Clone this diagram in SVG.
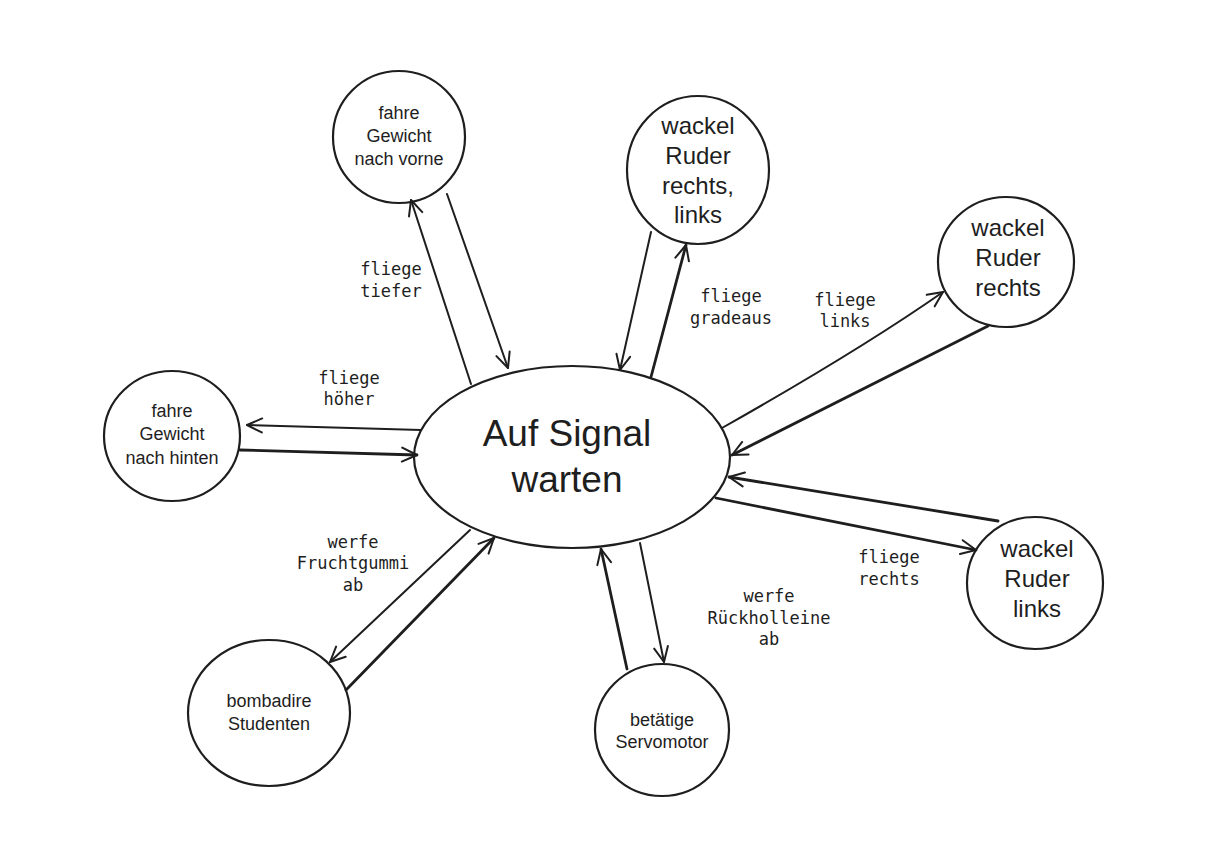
<svg xmlns="http://www.w3.org/2000/svg" width="1227" height="858" viewBox="0 0 1227 858">
<style>
.n{fill:none;stroke:#1e1e1e;stroke-width:2.2}
.t{font-family:"Liberation Sans","Noto Sans",sans-serif;fill:#1e1e1e;text-anchor:middle}
.s{font-size:18px}
.m{font-size:24px}
.l{font-family:"DejaVu Sans Mono","Liberation Mono",monospace;font-size:17px;fill:#1e1e1e;text-anchor:middle}
.c{fill:none;stroke:#1e1e1e;stroke-width:2;stroke-linecap:round;marker-end:url(#ah)}
.c3{stroke-width:2.8}
</style>
<defs>
<marker id="ah" markerUnits="userSpaceOnUse" markerWidth="24" markerHeight="24" viewBox="-20 -12 24 24" refX="0" refY="0" orient="auto">
<path d="M-15,-7 L0,0 L-15,7" fill="none" stroke="#1e1e1e" stroke-width="2" stroke-linecap="round" stroke-linejoin="round"/>
</marker>
</defs>
<rect width="1227" height="858" fill="#ffffff"/>
<g id="connectors">
<path class="c" d="M471,384 L411,200"/>
<path class="c" d="M447,194 L508,368"/>
<path class="c" d="M651,232 L620,370"/>
<path class="c c3" d="M651,377 L686,245"/>
<path class="c" d="M722,428 Q860,350 943,292"/>
<path class="c c3" d="M988,326 Q870,385 732,455"/>
<path class="c c3" d="M998,521 L729,477"/>
<path class="c c3" d="M716,498 L976,550"/>
<path class="c" d="M640,543 L664,662"/>
<path class="c c3" d="M627,669 L601,549"/>
<path class="c" d="M470,530 L330,662"/>
<path class="c c3" d="M346,690 L494,538"/>
<path class="c" d="M421,430 L247,425"/>
<path class="c c3" d="M240,450 L417,455"/>
</g>
<g id="labels">
<text class="l" x="391" y="275">fliege</text><text class="l" x="391" y="297">tiefer</text>
<text class="l" x="731" y="302">fliege</text><text class="l" x="731" y="324">gradeaus</text>
<text class="l" x="845" y="306">fliege</text><text class="l" x="845" y="327">links</text>
<text class="l" x="349" y="384">fliege</text><text class="l" x="349" y="405">höher</text>
<text class="l" x="353" y="548">werfe</text><text class="l" x="353" y="569">Fruchtgummi</text><text class="l" x="353" y="591">ab</text>
<text class="l" x="889" y="563">fliege</text><text class="l" x="889" y="585">rechts</text>
<text class="l" x="769" y="602">werfe</text><text class="l" x="769" y="624">Rückholleine</text><text class="l" x="769" y="645">ab</text>
</g>
<g id="center">
<ellipse class="n" cx="572" cy="457" rx="158" ry="91"/>
<text class="t" x="567" y="446" font-size="37">Auf Signal</text>
<text class="t" x="567" y="492" font-size="37">warten</text>
</g>
<g id="node-vorne">
<circle class="n" cx="399" cy="137" r="66"/>
<text class="t s" x="399" y="119">fahre</text><text class="t s" x="399" y="142">Gewicht</text><text class="t s" x="399" y="165">nach vorne</text>
</g>
<g id="node-rechts-links">
<ellipse class="n" cx="698" cy="170" rx="71" ry="74"/>
<text class="t m" x="698" y="134">wackel</text><text class="t m" x="698" y="164">Ruder</text><text class="t m" x="698" y="194">rechts,</text><text class="t m" x="698" y="223">links</text>
</g>
<g id="node-rechts">
<ellipse class="n" cx="1006" cy="262" rx="68" ry="65"/>
<text class="t m" x="1008" y="236">wackel</text><text class="t m" x="1008" y="266">Ruder</text><text class="t m" x="1008" y="296">rechts</text>
</g>
<g id="node-links">
<ellipse class="n" cx="1035" cy="583" rx="68" ry="66"/>
<text class="t m" x="1037" y="557">wackel</text><text class="t m" x="1037" y="587">Ruder</text><text class="t m" x="1037" y="617">links</text>
</g>
<g id="node-servo">
<ellipse class="n" cx="662" cy="730" rx="67" ry="66"/>
<text class="t s" x="662" y="726">betätige</text><text class="t s" x="662" y="748">Servomotor</text>
</g>
<g id="node-studenten">
<ellipse class="n" cx="269" cy="713" rx="81" ry="73"/>
<text class="t s" x="269" y="707">bombadire</text><text class="t s" x="269" y="730">Studenten</text>
</g>
<g id="node-hinten">
<ellipse class="n" cx="172" cy="436" rx="68" ry="65"/>
<text class="t s" x="172" y="417">fahre</text><text class="t s" x="172" y="440">Gewicht</text><text class="t s" x="172" y="464">nach hinten</text>
</g>
</svg>
